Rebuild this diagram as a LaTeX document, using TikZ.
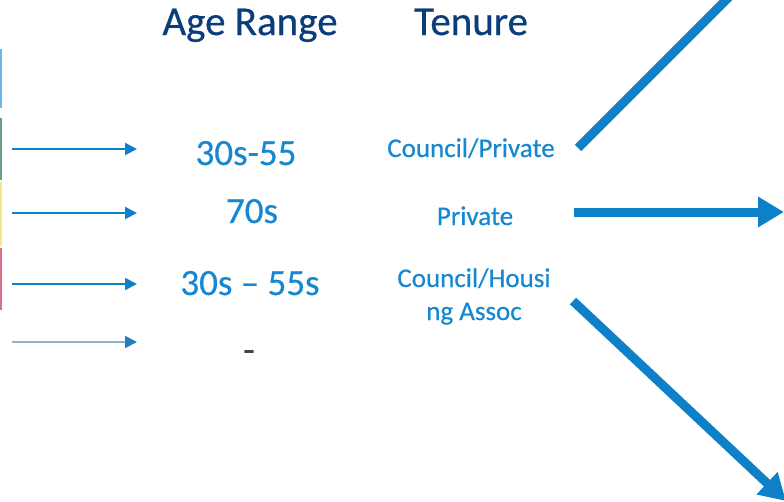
\documentclass[tikz,border=0pt]{standalone}
\usepackage{fontspec}
\setmainfont{Carlito}
\newfontfamily\thickfont{Carlito}[FakeBold=0.5]
\usetikzlibrary{arrows.meta}
\definecolor{navy}{HTML}{0B3D7A}
\definecolor{tblue}{HTML}{1787CF}
\definecolor{ablue}{HTML}{0E80C8}
\definecolor{greyblue}{HTML}{8DB2CA}
\definecolor{dash}{HTML}{3A4652}
\definecolor{barblue}{HTML}{6DB6E8}
\definecolor{bargreen}{HTML}{6E9E86}
\definecolor{baryellow}{HTML}{F3E98A}
\definecolor{barred}{HTML}{D8708A}
\begin{document}
\begin{tikzpicture}[x=1pt,y=-1pt,
  hdr/.style={text=navy,font=\thickfont\fontsize{41}{46}\selectfont,inner sep=0pt,anchor=base},
  age/.style={text=tblue,font=\thickfont\fontsize{37}{40}\selectfont,inner sep=0pt,anchor=base},
  ten/.style={text=tblue,font=\thickfont\fontsize{27}{33}\selectfont,inner sep=0pt,anchor=base,align=center},
  smallarrow/.style={draw=ablue,line width=2pt,-{Triangle[length=12pt,width=12pt]}},
  bigarrow/.style={draw=ablue,line width=9pt,-{Triangle[length=26pt,width=29pt]}},
  bigline/.style={draw=ablue,line width=9pt}]
\useasboundingbox (0,0) rectangle (784,501);
\clip (0,0) rectangle (784,501);
% left colour bars
\fill[barblue] (0,49) rectangle (2,108);
\fill[bargreen] (0,118) rectangle (2,180);
\fill[baryellow] (0,182) rectangle (2,246);
\fill[barred] (0,248) rectangle (2,310);
% headers
\node[hdr] (hage) at (250,35) {Age Range};
\node[hdr] (hten) at (471,35) {Tenure};
% age ranges
\node[age] (a1) at (246,165) {30s-55};
\node[age] (a2) at (252,223) {70s};
\node[age] (a3) at (250,295) {30s – 55s};
\node[age,text=dash] (a4) at (249,362) {-};
% tenure
\node[ten] (t1) at (471,157) {Council/Private};
\node[ten] (t2) at (475,225) {Private};
\node[ten] (t3) at (474,320) {Council/Housi\\ng Assoc};
% small arrows
\coordinate (s1) at (12,149); \coordinate (e1) at (137,149);
\coordinate (s2) at (12,213); \coordinate (e2) at (137,213);
\coordinate (s3) at (12,284); \coordinate (e3) at (137,284);
\coordinate (s4) at (12,342); \coordinate (e4) at (137,342);
\draw[smallarrow] (s1) -- (e1);
\draw[smallarrow] (s2) -- (e2);
\draw[smallarrow] (s3) -- (e3);
\draw[draw=greyblue,line width=2pt,-{Triangle[length=12pt,width=12pt,color=ablue!85!gray]}] (s4) -- (e4);
% big arrows
\coordinate (b1s) at (578,148); \coordinate (b1e) at (750,-24);
\coordinate (b2s) at (574,212); \coordinate (b2e) at (784,212);
\coordinate (b3s) at (573,301); \coordinate (b3e) at (786,501);
\draw[bigline] (b1s) -- (b1e);
\draw[bigarrow] (b2s) -- (b2e);
\draw[bigarrow] (b3s) -- (b3e);
\end{tikzpicture}
\end{document}
